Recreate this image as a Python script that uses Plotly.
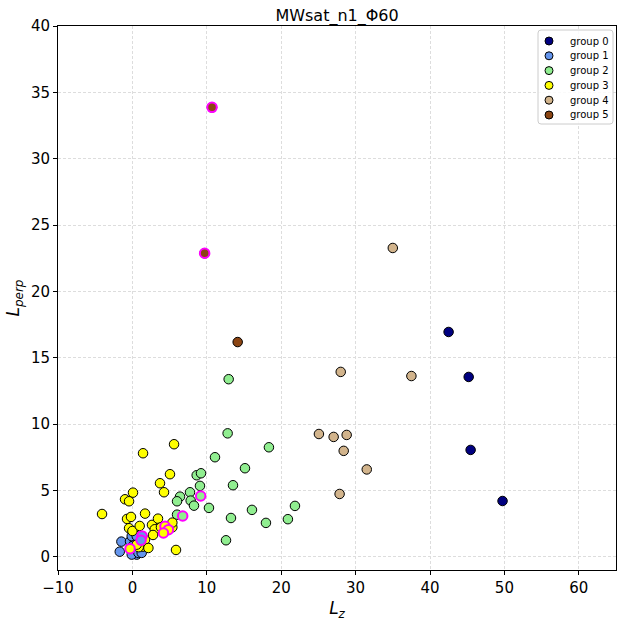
import plotly.graph_objects as go

# ---- data ----
g0_x = [42.5, 45.2, 45.46, 49.75]
g0_y = [16.94, 13.55, 8.05, 4.2]

g1_x = [-1.48, -1.7, -0.32, 0.35, -0.09, 0.58, 0.35, 0.58, -0.09, 0.81, 0.04, 1.05, 1.25]
g1_y = [1.14, 0.38, 1.17, 1.17, 1.55, 1.55, 0.54, 0.16, 0.16, 0.29, 0.81, 1.04, 0.29]

g2_x = [12.94, 12.8, 18.35, 11.1, 15.13, 8.64, 9.22, 9.08, 13.52, 7.74, 6.4, 6.0,
        7.83, 8.28, 10.29, 21.85, 16.07, 20.9, 13.25, 17.95, 12.58, 6.0]
g2_y = [13.38, 9.3, 8.25, 7.5, 6.67, 6.14, 6.29, 5.34, 5.39, 4.86, 4.53, 4.18,
        4.23, 3.85, 3.68, 3.83, 3.53, 2.83, 2.92, 2.55, 1.24, 3.17]

g3_x = [-4.08, 1.43, 5.6, 5.05, 3.71, 4.25, 0.08, -0.99, -0.45, 1.7, -0.72, -0.19,
        -0.45, 0.0, 0.98, 2.63, 3.0, 3.44, 3.84, 5.37, 5.37, 2.77, 1.69, 1.42,
        0.85, 5.86, 2.15, 0.58]
g3_y = [3.22, 7.8, 8.48, 6.22, 5.54, 4.86, 4.83, 4.33, 4.18, 3.25, 2.85, 3.0,
        2.15, 1.94, 2.32, 2.4, 2.07, 2.87, 2.22, 2.22, 2.57, 1.64, 1.27, 0.76,
        0.72, 0.51, 0.66, 0.91]

g4_x = [35.0, 28.0, 37.5, 25.07, 27.05, 28.8, 28.4, 31.5, 27.85]
g4_y = [23.27, 13.93, 13.62, 9.25, 9.03, 9.18, 7.98, 6.58, 4.73]

g5_x = [14.15, 10.7, 9.71]
g5_y = [16.18, 33.87, 22.87]

# highlighted points (magenta ring), with their group
hl_x = [10.7, 9.71, 9.18, 6.76, 4.38, 4.84, 4.17, -0.32, 1.29, 1.16]
hl_y = [33.87, 22.87, 4.58, 3.07, 2.3, 2.04, 1.79, 0.61, 1.57, 1.24]
hl_g = [5, 5, 2, 2, 3, 3, 3, 3, 1, 1]

group_names = ["group 0", "group 1", "group 2", "group 3", "group 4", "group 5"]
group_colors = ["#000080", "#6495ED", "#90EE90", "#FFFF00", "#D2B48C", "#8B4513"]

xs = [g0_x, g1_x, g2_x, g3_x, g4_x, g5_x]
ys = [g0_y, g1_y, g2_y, g3_y, g4_y, g5_y]

W, H = 623, 621
ML, MR, MT, MB = 58, 7, 26, 51
PW, PH = W - ML - MR, H - MT - MB


def px_x(p):
    return (p - ML) / PW


def px_y(p):
    return (H - MB - p) / PH


fig = go.Figure()
for name, col, x, y in zip(group_names, group_colors, xs, ys):
    fig.add_trace(go.Scatter(
        x=x, y=y, mode="markers", name=name, showlegend=False,
        marker=dict(size=9.5, color=col, line=dict(color="black", width=1)),
    ))

fig.add_trace(go.Scatter(
    x=hl_x, y=hl_y, mode="markers", showlegend=False,
    marker=dict(size=9.5, color=[group_colors[g] for g in hl_g],
                line=dict(color="#FF00FF", width=2)),
))

# ---- legend drawn as a boxed inset (matplotlib-like compact legend) ----
box_l, box_r, box_t, box_b, r = 538, 613, 30, 124, 3
path = (f"M {px_x(box_l + r)} {px_y(box_t)} L {px_x(box_r - r)} {px_y(box_t)} "
        f"Q {px_x(box_r)} {px_y(box_t)} {px_x(box_r)} {px_y(box_t + r)} "
        f"L {px_x(box_r)} {px_y(box_b - r)} "
        f"Q {px_x(box_r)} {px_y(box_b)} {px_x(box_r - r)} {px_y(box_b)} "
        f"L {px_x(box_l + r)} {px_y(box_b)} "
        f"Q {px_x(box_l)} {px_y(box_b)} {px_x(box_l)} {px_y(box_b - r)} "
        f"L {px_x(box_l)} {px_y(box_t + r)} "
        f"Q {px_x(box_l)} {px_y(box_t)} {px_x(box_l + r)} {px_y(box_t)} Z")
shapes = [dict(type="path", path=path, xref="paper", yref="paper",
               fillcolor="rgba(255,255,255,0.85)", line=dict(color="#cccccc", width=1),
               layer="above")]
annotations = []
row0, drow, mx, mrad, tx = 41, 14.8, 549, 4, 568
for i, (name, col) in enumerate(zip(group_names, group_colors)):
    cy = row0 + i * drow
    shapes.append(dict(type="circle", xref="paper", yref="paper",
                       x0=px_x(mx - mrad), x1=px_x(mx + mrad),
                       y0=px_y(cy + mrad), y1=px_y(cy - mrad),
                       fillcolor=col, line=dict(color="black", width=1), layer="above"))
    annotations.append(dict(x=px_x(tx), y=px_y(cy), xref="paper", yref="paper",
                            text=name, showarrow=False, xanchor="left", yanchor="middle",
                            font=dict(size=10, color="black")))

axis_common = dict(
    showline=True, linecolor="black", linewidth=1, mirror=True,
    ticks="outside", ticklen=4, tickcolor="black",
    showgrid=True, gridcolor="#dddddd", griddash="3px,2px", gridwidth=1,
    zeroline=False, tickfont=dict(size=15, color="black"), automargin=False,
)

fig.update_layout(
    width=W, height=H,
    margin=dict(l=ML, r=MR, t=MT, b=MB),
    paper_bgcolor="white", plot_bgcolor="white",
    font=dict(family="DejaVu Sans", color="black"),
    title=dict(text="MWsat_n1_Φ60", x=0.541, xanchor="center", y=0.975, yanchor="middle",
               font=dict(size=16, color="black")),
    xaxis=dict(range=[-10, 65], dtick=10,
               title=dict(text="<i>L</i><sub><i>z</i></sub>", font=dict(size=17), standoff=6),
               **axis_common),
    yaxis=dict(range=[-1, 40], dtick=5,
               title=dict(text="<i>L</i><sub><i>perp</i></sub>", font=dict(size=17), standoff=6),
               **axis_common),
    shapes=shapes,
    annotations=annotations,
    showlegend=False,
)

fig.write_html("out.html", config={"displayModeBar": False},
               post_script="document.body.style.margin='0';document.body.style.overflow='hidden';")
